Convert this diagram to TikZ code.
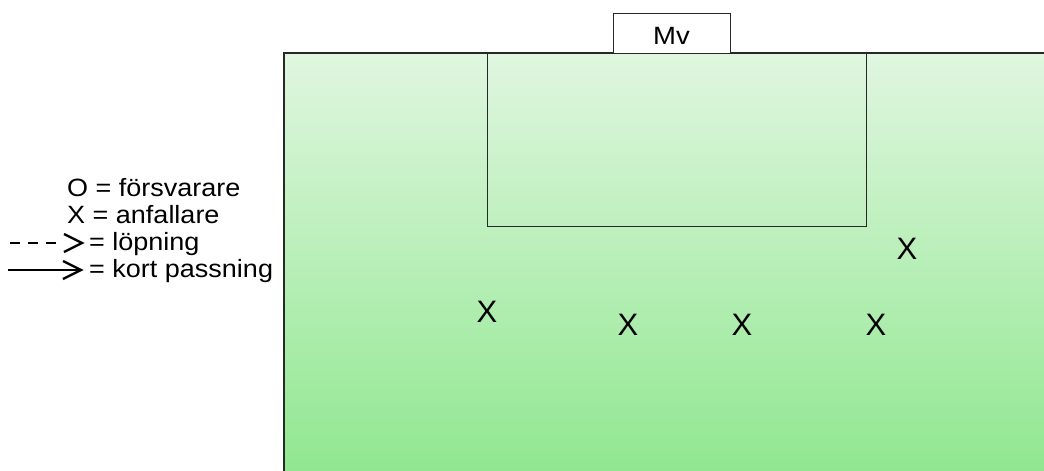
\documentclass[tikz,border=0pt]{standalone}
\usepackage{fontspec}
\setmainfont{Liberation Sans}
\newfontfamily\legfont[FakeStretch=1.08]{Liberation Sans}
\newfontfamily\mvfont[FakeStretch=1.1]{Liberation Sans}
\definecolor{fieldtop}{RGB}{224,246,224}
\definecolor{fieldbot}{RGB}{143,231,143}
\definecolor{edge}{RGB}{40,40,40}
\begin{document}
\begin{tikzpicture}[x=1pt,y=-1pt,
  boxline/.style={draw=edge, line width=1.3pt},
  lbl/.style={font=\legfont\fontsize{25}{30}\selectfont, inner sep=0, anchor=base west},
  player/.style={font=\fontsize{31}{36}\selectfont, inner sep=0},
  legline/.style={line width=1.6pt},
  chevron/.style={line width=2.3pt, line join=miter}]
\useasboundingbox (0,0) rectangle (1044,471);
% field
\node[shade, top color=fieldtop, bottom color=fieldbot, inner sep=0, minimum width=770pt, minimum height=425pt, anchor=north west] (field) at (284,53) {};
\draw[boxline] (field.north east) -- (field.north west) -- (field.south west);
% penalty area
\node[boxline, inner sep=0, minimum width=379pt, minimum height=173pt, anchor=north west] (pen) at (487,53) {};
% goalkeeper box
\node[boxline, fill=white, inner sep=0, minimum width=117pt, minimum height=40pt, anchor=north west] (mvbox) at (613,13) {};
\node[font=\mvfont\fontsize{25}{30}\selectfont, inner sep=0, anchor=base] (mv) at (671.5,44) {Mv};
% players
\node[player] (x1) at (487,312) {X};
\node[player] (x2) at (628,325) {X};
\node[player] (x3) at (742,325) {X};
\node[player] (x4) at (876,325) {X};
\node[player] (x5) at (907,249) {X};
% legend
\node[lbl] (l1) at (67,196) {O = försvarare};
\node[lbl] (l2) at (67,223) {X = anfallare};
\node[lbl] (l3) at (89,250) {= löpning};
\node[lbl] (l4) at (89,277) {= kort passning};
\coordinate (d1) at (10,243);
\coordinate (d2) at (57,243);
\coordinate (dt) at (82,243);
\coordinate (s1) at (8,270);
\coordinate (st) at (81,270);
\draw[legline, dash pattern=on 10pt off 8pt] (d1) -- (d2);
\draw[chevron] ([shift={(-18,-9)}]dt) -- (dt) -- ([shift={(-18,9)}]dt);
\draw[legline] (s1) -- (st);
\draw[chevron] ([shift={(-18,-9)}]st) -- (st) -- ([shift={(-18,9)}]st);
\end{tikzpicture}
\end{document}
